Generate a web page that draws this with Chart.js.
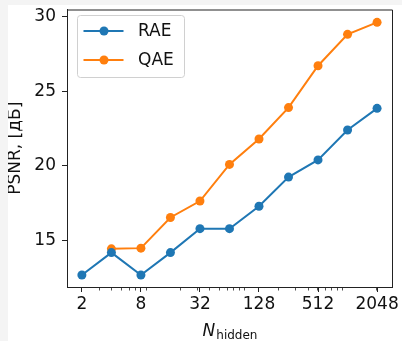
<!DOCTYPE html>
<html>
<head>
<meta charset="utf-8">
<script src="https://cdn.jsdelivr.net/npm/chart.js@4/dist/chart.umd.min.js"></script>
<style>
  html, body { margin:0; padding:0; background:#f4f4f4; }
  #wrap { position:absolute; left:8px; top:5px; width:394px; height:336px; background:#fff; }
</style>
</head>
<body>
<div id="wrap"><canvas id="c"></canvas></div>
<script>
"use strict";
const nHidden = [2, 4, 8, 16, 32, 64, 128, 256, 512, 1024, 2048];
const rae     = [12.7, 14.2, 12.7, 14.2, 15.8, 15.8, 17.3, 19.25, 20.4, 22.4, 23.85];
const qae     = [null, 14.45, 14.5, 16.55, 17.65, 20.1, 21.8, 23.9, 26.7, 28.8, 29.6];
const xTicks  = [2, 8, 32, 128, 512, 2048];
const yTicks  = [15, 20, 25, 30];
const seriesNames = ["RAE", "QAE"];

const BLUE = "#1f77b4", ORANGE = "#ff7f0e", INK = "#222";
const FONT = "'DejaVu Sans', sans-serif";

function pts(vals) {
  return nHidden.map((n, i) => ({ x: n, y: vals[i] })).filter(p => p.y != null);
}

// minor ticks like matplotlib's base-10 log minors
const minorTicks = [];
for (let d = 1; d <= 1000; d *= 10)
  for (let m = 2; m <= 9; m++) minorTicks.push(m * d);

const extras = {
  id: "extras",
  afterDraw(chart) {
    const { ctx, chartArea: a, scales: { x, y } } = chart;
    ctx.save();
    // top/right spines
    ctx.strokeStyle = INK; ctx.lineWidth = 1;
    ctx.beginPath();
    ctx.moveTo(a.left, a.top + 0.5); ctx.lineTo(a.right + 0.5, a.top + 0.5); ctx.lineTo(a.right + 0.5, a.bottom);
    ctx.stroke();
    // minor x ticks
    ctx.lineWidth = 0.8;
    minorTicks.forEach(v => {
      if (v < x.min || v > x.max || xTicks.includes(v)) return;
      const px = Math.round(x.getPixelForValue(v)) + 0.5;
      ctx.beginPath(); ctx.moveTo(px, a.bottom); ctx.lineTo(px, a.bottom + 3.5); ctx.stroke();
    });
    // y title
    ctx.fillStyle = "#111";
    ctx.font = "17px " + FONT;
    ctx.textAlign = "center"; ctx.textBaseline = "middle";
    ctx.save();
    ctx.translate(8, (a.top + a.bottom) / 2);
    ctx.rotate(-Math.PI / 2);
    ctx.fillText("PSNR, [дБ]", 0, 0);
    ctx.restore();
    // x title with subscript
    ctx.textBaseline = "alphabetic"; ctx.textAlign = "left";
    ctx.font = "italic 17px " + FONT;
    const wN = ctx.measureText("N").width;
    ctx.font = "12px " + FONT;
    const wSub = ctx.measureText("hidden").width;
    const x0 = (a.left + a.right) / 2 - (wN + wSub) / 2;
    ctx.font = "italic 17px " + FONT;
    ctx.fillText("N", x0, 331);
    ctx.font = "12px " + FONT;
    ctx.fillText("hidden", x0 + wN + 1, 334);
    // legend
    const lx = 69.5, ly = 10.5, lw = 107, lh = 62;
    ctx.beginPath();
    ctx.roundRect(lx, ly, lw, lh, 3);
    ctx.fillStyle = "rgba(255,255,255,0.8)"; ctx.fill();
    ctx.strokeStyle = "#d0d0d0"; ctx.lineWidth = 1; ctx.stroke();
    ctx.font = "17px " + FONT; ctx.textBaseline = "middle";
    [BLUE, ORANGE].forEach((col, i) => {
      const cy = 26 + i * 29;
      ctx.strokeStyle = col; ctx.lineWidth = 2;
      ctx.beginPath(); ctx.moveTo(75.5, cy); ctx.lineTo(115.5, cy); ctx.stroke();
      ctx.fillStyle = col;
      ctx.beginPath(); ctx.arc(96, cy, 4.5, 0, Math.PI * 2); ctx.fill();
      ctx.fillStyle = "#111";
      ctx.fillText(seriesNames[i], 130, cy + 1);
    });
    ctx.restore();
  }
};

new Chart(document.getElementById("c"), {
  type: "line",
  data: {
    datasets: [
      { label: seriesNames[0], data: pts(rae), borderColor: BLUE, backgroundColor: BLUE, borderWidth: 2,
        pointRadius: 4.5, pointBorderWidth: 0, pointHoverRadius: 4.5, tension: 0 },
      { label: seriesNames[1], data: pts(qae), borderColor: ORANGE, backgroundColor: ORANGE, borderWidth: 2,
        pointRadius: 4.5, pointBorderWidth: 0, pointHoverRadius: 4.5, tension: 0 }
    ]
  },
  options: {
    responsive: true, maintainAspectRatio: false, animation: false,
    layout: { padding: { top: 1, right: 10, left: 0, bottom: 0 } },
    plugins: { legend: { display: false }, tooltip: { enabled: false } },
    scales: {
      x: {
        type: "logarithmic", min: 1.41, max: 2908,
        afterBuildTicks: s => { s.ticks = xTicks.map(v => ({ value: v })); },
        afterFit: s => { s.height = 54; s.paddingLeft = 0; s.paddingRight = 0; },
        grid: { drawOnChartArea: false, drawTicks: true, tickLength: 5, tickColor: INK, tickWidth: 1 },
        border: { color: INK, width: 1 },
        ticks: { color: "#111", font: { family: FONT, size: 17 }, padding: 2, maxRotation: 0, autoSkip: false,
                 callback: v => String(v) }
      },
      y: {
        type: "linear", min: 11.9, max: 30.46,
        afterBuildTicks: s => { s.ticks = yTicks.map(v => ({ value: v })); },
        afterFit: s => { s.width = 59; s.paddingTop = 0; s.paddingBottom = 0; },
        grid: { drawOnChartArea: false, drawTicks: true, tickLength: 5, tickColor: INK, tickWidth: 1 },
        border: { color: INK, width: 1 },
        ticks: { color: "#111", font: { family: FONT, size: 17 }, padding: 6, callback: v => String(v) }
      }
    }
  },
  plugins: [extras]
});
</script>
</body>
</html>
